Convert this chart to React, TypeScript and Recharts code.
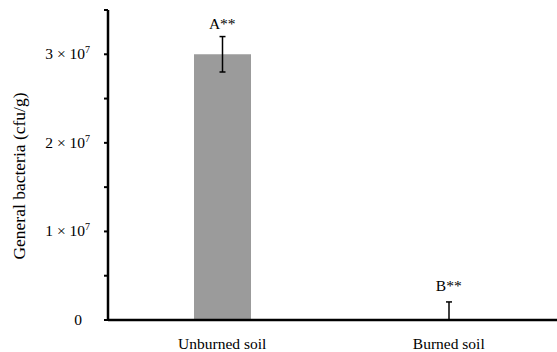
import React from "react";
import {
  BarChart,
  Bar,
  XAxis,
  YAxis,
  ErrorBar,
  ReferenceDot,
  Label,
} from "recharts";

const categories = ["Unburned soil", "Burned soil"];
const counts = [3.0e7, 4.0e4];
const errLow = [2.0e6, 4.0e4];
const errHigh = [2.0e6, 2.0e6];
const groupLabels = ["A**", "B**"];
const labelAt = [3.28e7, 3.3e6];
const yTicks = [0, 5e6, 1e7, 1.5e7, 2e7, 2.5e7, 3e7, 3.5e7];
const yTickText: Record<number, string> = { 1e7: "1", 2e7: "2", 3e7: "3" };

const data = categories.map((name, i) => ({
  name,
  value: counts[i],
  err: [errLow[i], errHigh[i]],
}));

const FONT = "'Liberation Serif', 'Times New Roman', serif";
const txt = { fontFamily: FONT, fontSize: 15.5 };

const YTick = ({ x, y, payload }: any) => {
  const v = payload.value;
  if (v === 0) {
    return (
      <text x={x - 8} y={y} dy={5} textAnchor="end" style={txt} fill="#000">
        0
      </text>
    );
  }
  const m = yTickText[v];
  if (!m) return null;
  return (
    <text x={x} y={y} dy={5} textAnchor="end" style={txt} fill="#000">
      {m} × 10
      <tspan style={{ fontSize: 10 }} dy={-6}>
        7
      </tspan>
    </text>
  );
};

const XTick = ({ x, y, payload }: any) => (
  <text x={x} y={y} dy={29} textAnchor="middle" style={txt} fill="#000">
    {payload.value}
  </text>
);

const YTitle = ({ viewBox }: any) => {
  const cy = viewBox.y + viewBox.height / 2 + 11;
  return (
    <text
      x={25}
      y={cy}
      transform={`rotate(-90, 25, ${cy})`}
      textAnchor="middle"
      style={{ fontFamily: FONT, fontSize: 17.5 }}
      fill="#000"
    >
      General bacteria (cfu/g)
    </text>
  );
};

export default function App() {
  return (
    <div style={{ position: "absolute", left: 0, top: 0, background: "#fff", fontFamily: FONT }}>
      <BarChart
        width={557}
        height={352}
        data={data}
        margin={{ top: 10, right: -5, bottom: 0, left: 0 }}
        barCategoryGap={0}
      >
        <XAxis
          dataKey="name"
          height={32}
          padding={{ left: 1, right: 0 }}
          axisLine={{ stroke: "#000", strokeWidth: 2.5 }}
          tickLine={false}
          tickSize={0}
          tickMargin={0}
          tick={<XTick />}
          interval={0}
        />
        <YAxis
          width={108}
          domain={[0, 3.5e7]}
          ticks={yTicks}
          interval={0}
          axisLine={{ stroke: "#000", strokeWidth: 2.5 }}
          tickLine={{ stroke: "#000", strokeWidth: 2 }}
          tickSize={4}
          tickMargin={14}
          tick={<YTick />}
        >
          <Label content={<YTitle />} />
        </YAxis>
        <Bar dataKey="value" fill="#9b9b9b" barSize={57} isAnimationActive={false}>
          <ErrorBar dataKey="err" width={3} stroke="#000" strokeWidth={1.5} />
        </Bar>
        {categories.map((c, i) => (
          <ReferenceDot
            key={c}
            x={c}
            y={labelAt[i]}
            r={0}
            fill="none"
            stroke="none"
            label={{
              value: groupLabels[i],
              position: "top",
              offset: 0,
              style: txt,
              fill: "#000",
            }}
          />
        ))}
      </BarChart>
    </div>
  );
}
